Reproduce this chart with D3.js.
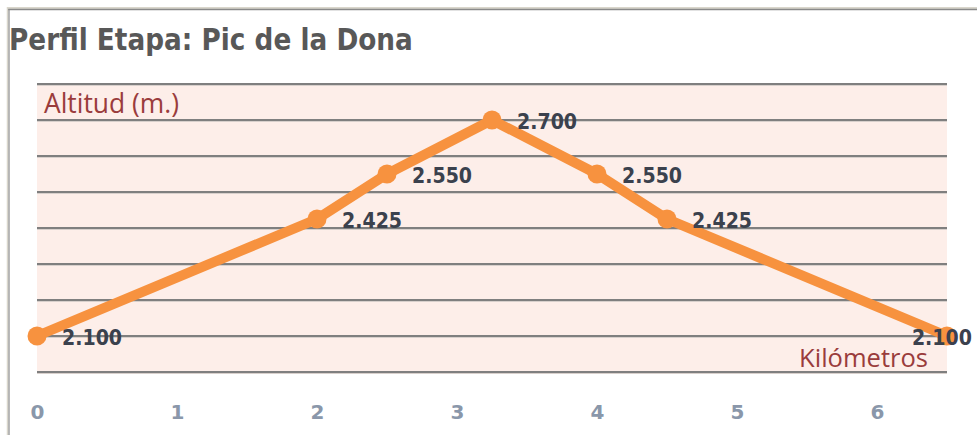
<!DOCTYPE html>
<html><head><meta charset="utf-8">
<script src="https://cdn.jsdelivr.net/npm/d3@7"></script>
<style>html,body{margin:0;padding:0;background:#fff;}svg{display:block;}
.xt text{font-family:"DejaVu Sans";font-weight:bold;font-size:20px;fill:#8a97aa;}</style>
</head><body>
<svg id="c" width="977" height="435"></svg>
<script>
const title = "Perfil Etapa: Pic de la Dona";
const km = [0, 2, 2.5, 3.25, 4, 4.5, 6.5];
const altitude = [2100, 2425, 2550, 2700, 2550, 2425, 2100];
const xTicks = [0, 1, 2, 3, 4, 5, 6];
const yGrid = [2000, 2100, 2200, 2300, 2400, 2500, 2600, 2700, 2800];
const yLabel = "Altitud (m.)";
const xLabel = "Kilómetros";

const svg = d3.select("#c");
const x = d3.scaleLinear().domain([0, 6.5]).range([37, 947]);
const y = d3.scaleLinear().domain([2000, 2800]).range([372, 84]);
const fmt = d3.formatLocale({decimal: ",", thousands: ".", grouping: [3], currency: ["", "€"]}).format(",");

// frame
svg.append("line").attr("x1", 7).attr("x2", 977).attr("y1", 8).attr("y2", 8).attr("stroke", "#d9d6cc").attr("stroke-width", 2);
svg.append("line").attr("x1", 7).attr("x2", 977).attr("y1", 9.5).attr("y2", 9.5).attr("stroke", "#8a8a8a").attr("stroke-width", 1.5);
svg.append("line").attr("x1", 7.5).attr("x2", 7.5).attr("y1", 7).attr("y2", 435).attr("stroke", "#d9d6cc").attr("stroke-width", 1.5);
svg.append("line").attr("x1", 9).attr("x2", 9).attr("y1", 9).attr("y2", 435).attr("stroke", "#8a8a8a").attr("stroke-width", 1.2);

// title
const t = svg.append("text").attr("x", 0).attr("y", 0).text(title)
  .attr("font-family", "DejaVu Sans").attr("font-weight", "bold").attr("font-size", 22).attr("fill", "#585858");
const tw = t.node().getComputedTextLength();
t.attr("font-size", 22 * 404 / tw).attr("transform", "translate(9,49.5) scale(1,1.12)");

// plot background
svg.append("rect").attr("x", x(0)).attr("y", y(2800)).attr("width", x(6.5) - x(0)).attr("height", y(2000) - y(2800)).attr("fill", "#fdeee9");

// gridlines
const g = svg.append("g");
g.selectAll("line.s").data(yGrid).join("line").attr("class", "s")
  .attr("x1", x(0)).attr("x2", x(6.5)).attr("y1", d => y(d) + 1.5).attr("y2", d => y(d) + 1.5)
  .attr("stroke", "#d8d0cc").attr("stroke-width", 1);
g.selectAll("line.g").data(yGrid).join("line").attr("class", "g")
  .attr("x1", x(0)).attr("x2", x(6.5)).attr("y1", d => y(d)).attr("y2", d => y(d))
  .attr("stroke", "#7f7f7f").attr("stroke-width", 2);

// axis titles
const yl = svg.append("text").attr("x", 44).attr("y", 113).text(yLabel)
  .attr("font-family", "Open Sans").attr("font-size", 20).attr("fill", "#9a3c3c");
yl.attr("font-size", 20 * 135 / yl.node().getComputedTextLength());
const xl = svg.append("text").attr("x", 928).attr("y", 367).attr("text-anchor", "end").text(xLabel)
  .attr("font-family", "Open Sans").attr("font-size", 20).attr("fill", "#9a3c3c");
xl.attr("font-size", 20 * 129 / xl.node().getComputedTextLength());

// x axis tick labels
const xAxis = d3.axisBottom(x).tickValues(xTicks).tickSize(0).tickPadding(0).tickFormat(d3.format("d"));
const ax = svg.append("g").attr("class", "xt").attr("transform", "translate(0,419)").call(xAxis);
ax.attr("font-size", null).attr("font-family", null);
ax.select(".domain").remove();
ax.selectAll("text").attr("dy", 0).attr("fill", null);

// line
const data = km.map((k, i) => ({k, a: altitude[i]}));
svg.append("path").datum(data)
  .attr("d", d3.line().x(d => x(d.k)).y(d => y(d.a)))
  .attr("fill", "none").attr("stroke", "#f7923f").attr("stroke-width", 10)
  .attr("stroke-linejoin", "round").attr("stroke-linecap", "round");
svg.selectAll("circle.m").data(data).join("circle").attr("class", "m")
  .attr("cx", d => x(d.k)).attr("cy", d => y(d.a)).attr("r", 9.5).attr("fill", "#f7923f");

// data labels
svg.selectAll("text.lbl").data(data).join("text").attr("class", "lbl")
  .attr("font-family", "DejaVu Sans").attr("font-weight", "bold").attr("font-size", 19).attr("fill", "#3b414d")
  .text(d => fmt(d.a))
  .each(function(d) {
    const w = this.getComputedTextLength();
    let px = x(d.k) + 25;
    if (px + w > 972) px = 972 - w;
    d3.select(this).attr("transform", `translate(${px},${y(d.a) + 9}) scale(1,1.08)`);
  });
</script>
</body></html>
